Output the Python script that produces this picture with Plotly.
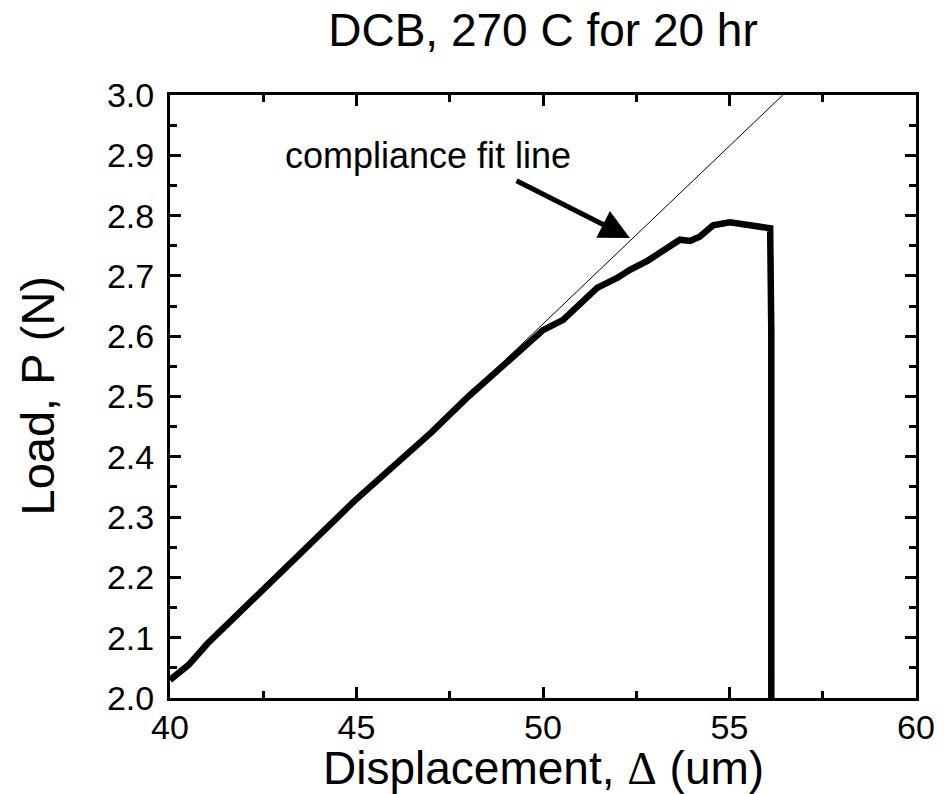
import plotly.graph_objects as go

# Measured load-displacement curve
disp_um = [40.0, 40.5, 41.0, 42.0, 43.0, 44.0, 45.0, 46.0, 47.0, 48.0, 49.0, 49.65,
           50.0, 50.54, 51.0, 51.45, 52.0, 52.33, 52.8, 53.22, 53.5, 53.67, 53.94,
           54.2, 54.56, 55.01, 55.55, 56.09, 56.12, 56.12]
load_N = [2.03, 2.055, 2.09, 2.15, 2.21, 2.27, 2.33, 2.385, 2.44, 2.50, 2.555, 2.594,
          2.61, 2.627, 2.655, 2.68, 2.697, 2.71, 2.725, 2.743, 2.755, 2.76, 2.758,
          2.765, 2.784, 2.789, 2.784, 2.779, 2.61, 1.95]

# Compliance fit line end points
fit_disp = [40.0, 56.43]
fit_load = [2.03, 3.0]

title_text = "DCB, 270 C for 20 hr"
x_title = "Displacement, <span style='font-family:Liberation Serif, Times New Roman, serif'>Δ</span> (um)"
y_title = "Load, P (N)"
note_text = "compliance fit line"
note_pos = (46.92, 2.90)
arrow_head = (52.33, 2.763)
arrow_tail = (49.25, 2.859)

FONT = "Liberation Sans, Arial, Helvetica, sans-serif"

# page body has an 8px margin, so the figure is sized to fit inside the window
W, H = 942, 786
ML, MT, PW, PH = 162, 87, 746, 603

fig = go.Figure()
fig.add_trace(go.Scatter(x=fit_disp, y=fit_load, mode="lines",
                         line=dict(color="black", width=1), showlegend=False))
fig.add_trace(go.Scatter(x=disp_um, y=load_N, mode="lines",
                         line=dict(color="black", width=6.5), showlegend=False))

axis_common = dict(
    showline=True, linecolor="black", linewidth=3, mirror="allticks",
    ticks="inside", ticklen=11, tickwidth=3, tickcolor="black",
    showgrid=False, zeroline=False, automargin=False,
    tickfont=dict(family=FONT, size=34, color="black"),
)

fig.update_xaxes(range=[40, 60], dtick=5, tick0=40,
                 minor=dict(dtick=2.5, ticks="inside", ticklen=7, tickwidth=3, tickcolor="black", showgrid=False),
                 ticklabelstandoff=-3,
                 **axis_common)
fig.update_yaxes(range=[2.0, 3.0], dtick=0.1, tick0=2.0, tickformat=".1f",
                 minor=dict(dtick=0.05, ticks="inside", ticklen=7, tickwidth=3, tickcolor="black", showgrid=False),
                 ticklabelstandoff=6,
                 **axis_common)

# axis titles
fig.add_annotation(x=0.5, y=-70 / PH, xref="paper", yref="paper", text=x_title,
                   showarrow=False, xanchor="center", yanchor="middle",
                   font=dict(family=FONT, size=46, color="black"))
fig.add_annotation(x=(37 - 170) / PW, y=0.5, xref="paper", yref="paper", text=y_title,
                   showarrow=False, xanchor="center", yanchor="middle", textangle=-90,
                   font=dict(family=FONT, size=47, color="black"))

fig.add_annotation(x=note_pos[0], y=note_pos[1], xref="x", yref="y", text=note_text,
                   showarrow=False, font=dict(family=FONT, size=36, color="black"))
fig.add_annotation(x=arrow_head[0], y=arrow_head[1], xref="x", yref="y",
                   ax=arrow_tail[0], ay=arrow_tail[1], axref="x", ayref="y",
                   text="", showarrow=True, arrowhead=2, arrowsize=1.2, arrowwidth=5,
                   arrowcolor="black")

fig.update_layout(
    width=W, height=H,
    margin=dict(l=ML, r=W - ML - PW, t=MT, b=H - MT - PH),
    paper_bgcolor="white", plot_bgcolor="white",
    title=dict(text=title_text, x=(ML + PW / 2) / W, xanchor="center",
               y=1 - 22 / H, yanchor="middle",
               font=dict(family=FONT, size=46, color="black")),
)

fig.write_html("out.html")
